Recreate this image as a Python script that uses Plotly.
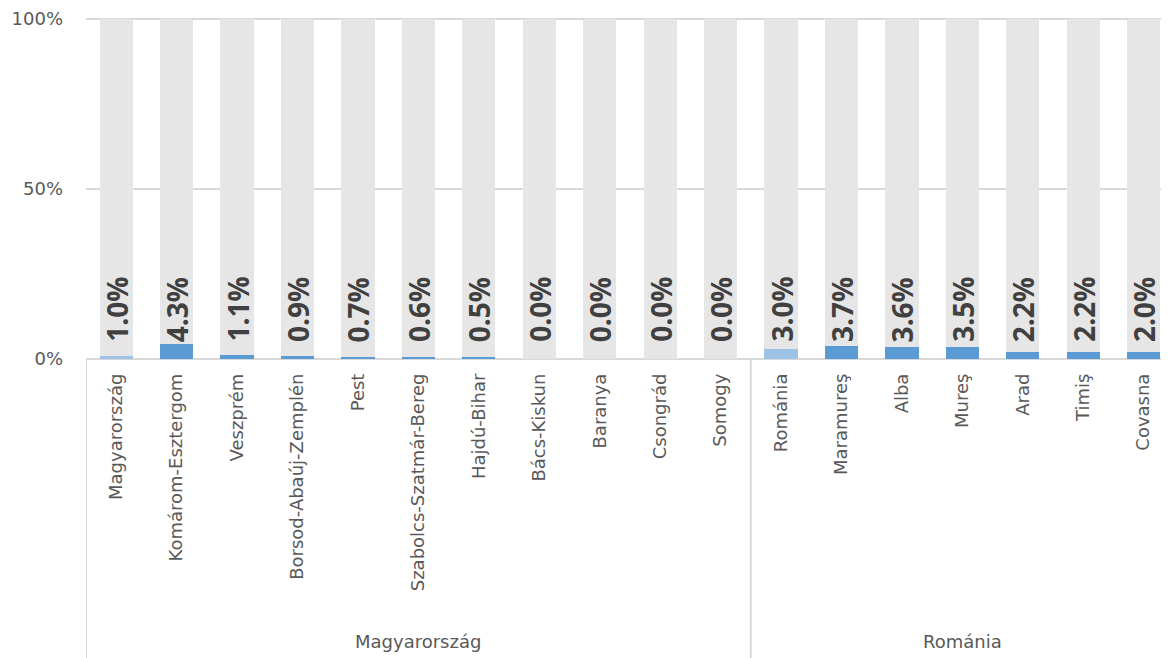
import plotly.graph_objects as go

categories = ["Magyarország", "Komárom-Esztergom", "Veszprém", "Borsod-Abaúj-Zemplén", "Pest",
              "Szabolcs-Szatmár-Bereg", "Hajdú-Bihar", "Bács-Kiskun", "Baranya", "Csongrád", "Somogy",
              "Románia", "Maramureş", "Alba", "Mureş", "Arad", "Timiş", "Covasna"]
share = [1.0, 4.3, 1.1, 0.9, 0.7, 0.6, 0.5, 0.0, 0.0, 0.0, 0.0,
         3.0, 3.7, 3.6, 3.5, 2.2, 2.2, 2.0]
groups = ["Magyarország", "Románia"]
group_sizes = [11, 7]
y_ticks = [0, 50, 100]
y_tick_text = ["0%", "50%", "100%"]

rest = [100 - v for v in share]
# country totals are drawn in a lighter blue
blue_colors = ["#9DC3E6" if c in groups else "#5B9BD5" for c in categories]

fig = go.Figure()
fig.add_bar(x=categories, y=share, marker_color=blue_colors, marker_line_width=0, hoverinfo="skip")
fig.add_bar(x=categories, y=rest, marker_color="#E7E6E6", marker_line_width=0, hoverinfo="skip")

for c, v in zip(categories, share):
    fig.add_annotation(x=c, y=0, xref="x", yref="y", text=f"<b>{v:.1f}%</b>", textangle=-90,
                       showarrow=False, yanchor="bottom", yshift=15,
                       font=dict(family="Open Sans", size=28, color="#404040"))

plot_h = 341
bottom = -307 / plot_h
start = -0.5
for g, n in zip(groups, group_sizes):
    fig.add_shape(type="line", xref="x", yref="paper", x0=start, x1=start, y0=0, y1=bottom,
                  line=dict(color="#D9D9D9", width=2))
    fig.add_annotation(x=start + n / 2, y=-282 / plot_h, xref="x", yref="paper", text=g,
                       showarrow=False, yanchor="middle",
                       font=dict(family="DejaVu Sans", size=18, color="#595959"))
    start += n

fig.update_layout(
    barmode="stack", bargap=0.45, showlegend=False,
    width=1169, height=658,
    margin=dict(l=78, r=8, t=10, b=307, autoexpand=False),
    plot_bgcolor="white", paper_bgcolor="white",
    font=dict(family="DejaVu Sans", color="#595959"),
)
fig.update_xaxes(type="category", range=[-0.5, 17.42], tickangle=-90, showgrid=False,
                 showline=False, ticks="", ticklabelstandoff=10, automargin=False,
                 tickfont=dict(family="DejaVu Sans", size=18, color="#595959"))
fig.update_yaxes(range=[0, 100.3], tickvals=y_ticks, ticktext=y_tick_text, showgrid=True,
                 gridcolor="#D9D9D9", gridwidth=2, zeroline=True, zerolinecolor="#D9D9D9",
                 zerolinewidth=2, tickfont=dict(family="DejaVu Sans", size=18, color="#595959"),
                 ticklabelstandoff=22, ticklabeloverflow="allow", automargin=False)

fig.write_html("out.html")
